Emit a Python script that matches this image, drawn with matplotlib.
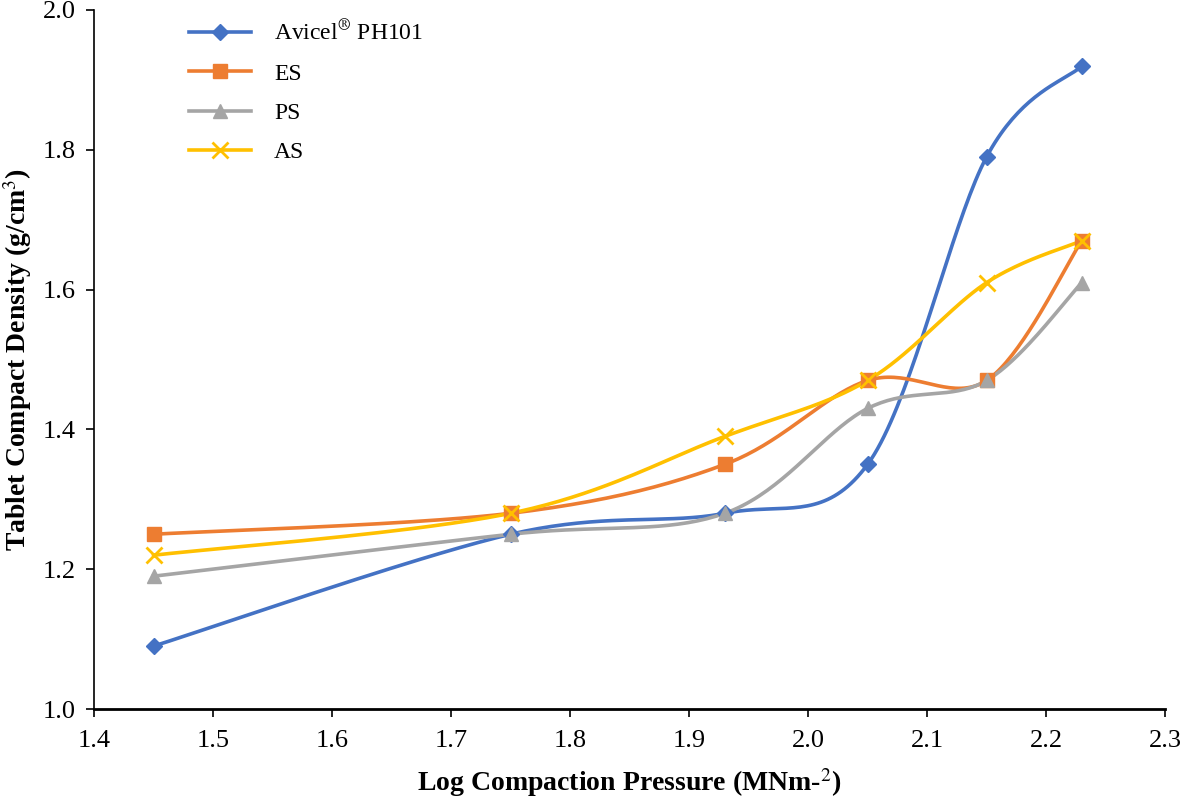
import numpy as np
import matplotlib.pyplot as plt

plt.rcParams['font.family'] = ['Liberation Serif', 'DejaVu Serif']
plt.rcParams['mathtext.fontset'] = 'stix'

pressure = [1.45, 1.75, 1.93, 2.05, 2.15, 2.23]
avicel = [1.09, 1.25, 1.28, 1.35, 1.79, 1.92]
es = [1.25, 1.28, 1.35, 1.47, 1.47, 1.67]
ps = [1.19, 1.25, 1.28, 1.43, 1.47, 1.61]
as_ = [1.22, 1.28, 1.39, 1.47, 1.61, 1.67]

labels = ['Avicel$^{\\circledR}$ PH101', 'ES', 'PS', 'AS']
colors = ['#4472C4', '#ED7D31', '#A5A5A5', '#FFC000']
markers = ['D', 's', '^', 'x']


def smooth(x, y, n=40):
    # excel-like smoothed line: catmull-rom through the points, drawn as bezier
    x = np.asarray(x, float)
    y = np.asarray(y, float)
    px = np.concatenate([[x[0]], x, [x[-1]]])
    py = np.concatenate([[y[0]], y, [y[-1]]])
    xs, ys = [], []
    t = np.linspace(0, 1, n)
    for i in range(1, len(px) - 2):
        p0 = np.array([px[i], py[i]])
        p3 = np.array([px[i + 1], py[i + 1]])
        c1 = p0 + (np.array([px[i + 1], py[i + 1]]) - np.array([px[i - 1], py[i - 1]])) / 6
        c2 = p3 - (np.array([px[i + 2], py[i + 2]]) - np.array([px[i], py[i]])) / 6
        b = ((1 - t) ** 3)[:, None] * p0 + (3 * (1 - t) ** 2 * t)[:, None] * c1 \
            + (3 * (1 - t) * t ** 2)[:, None] * c2 + (t ** 3)[:, None] * p3
        xs.extend(b[:, 0])
        ys.extend(b[:, 1])
    return xs, ys


fig = plt.figure(figsize=(11.81, 7.98), dpi=100)
ax = fig.add_axes([0.0796, 0.1115, 0.907, 0.876])

for yv, lab, c, m in zip([avicel, es, ps, as_], labels, colors, markers):
    sx, sy = smooth(pressure, yv)
    ms = {'D': 8, 's': 10, '^': 10, 'x': 11}[m]
    mew = 2 if m == 'x' else 1
    ax.plot(sx, sy, color=c, lw=2.6, zorder=2)
    ax.plot(pressure, yv, ls='none', marker=m, color=c, ms=ms, mew=mew, zorder=3)
    ax.plot([], [], color=c, lw=2.6, marker=m, ms=ms, mew=mew, label=lab)

ax.set_xlim(1.4, 2.3)
ax.set_ylim(1.0, 2.0)
ax.set_xticks(np.arange(1.4, 2.31, 0.1))
ax.set_yticks(np.arange(1.0, 2.01, 0.2))
ax.xaxis.set_major_formatter(plt.FormatStrFormatter('%.1f'))
ax.yaxis.set_major_formatter(plt.FormatStrFormatter('%.1f'))
ax.tick_params(labelsize=19, width=1.2, length=6, direction='out')
ax.tick_params(axis='x', pad=9)
ax.tick_params(axis='y', pad=7)
ax.spines['top'].set_visible(False)
ax.spines['right'].set_visible(False)
ax.spines['left'].set_linewidth(1.2)
ax.spines['bottom'].set_linewidth(2)

ax.set_xlabel('Log Compaction Pressure (MNm-$^{2}$)', fontsize=20, fontweight='bold', labelpad=10)
ax.set_ylabel('Tablet Compact Density (g/cm$^{3}$)', fontsize=20, fontweight='bold', labelpad=6)

ax.legend(loc='upper left', bbox_to_anchor=(0.069, 1.015), frameon=False, fontsize=17,
          handlelength=2.6, labelspacing=0.75, handletextpad=1.0)

fig.savefig('out.png', dpi=100)
